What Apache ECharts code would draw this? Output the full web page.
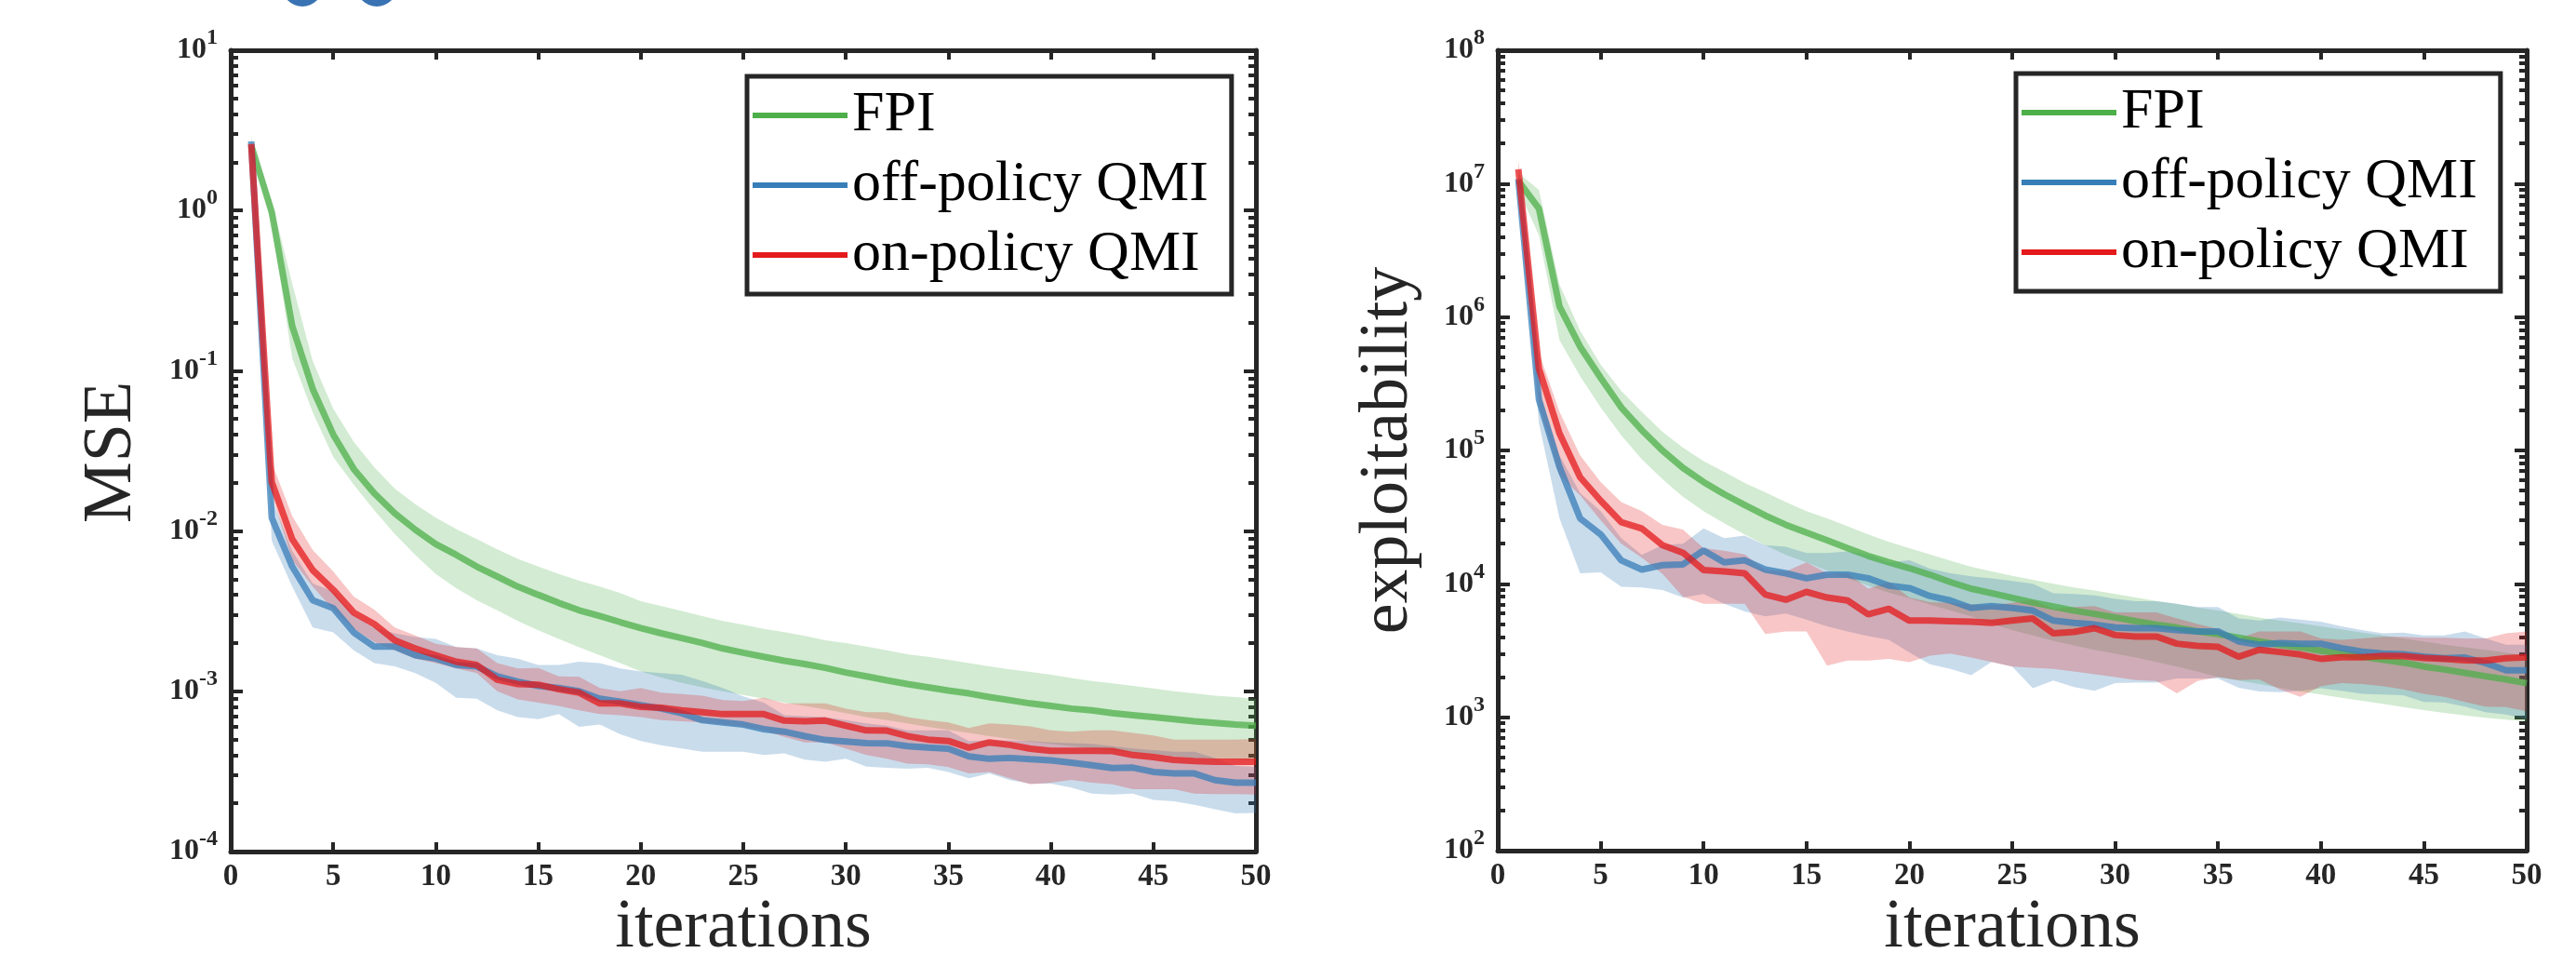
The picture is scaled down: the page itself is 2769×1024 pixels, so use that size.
<!DOCTYPE html>
<html>
<head>
<meta charset="utf-8">
<script src="https://cdn.jsdelivr.net/npm/echarts@6/dist/echarts.min.js"></script>
<style>
  html, body { margin: 0; padding: 0; background: #fff; }
  #chart { width: 2769px; height: 1024px; }
</style>
</head>
<body>
<div id="chart"></div>
<script>
// iterations on the x axis
const iters = [1,2,3,4,5,6,7,8,9,10,11,12,13,14,15,16,17,18,19,20,21,22,23,24,25,
  26,27,28,29,30,31,32,33,34,35,36,37,38,39,40,41,42,43,44,45,46,47,48,49,50];
const xTicks = [0, 5, 10, 15, 20, 25, 30, 35, 40, 45, 50];
const names = ['FPI', 'off-policy QMI', 'on-policy QMI'];

// ---- left panel: MSE ----
const mseFpi = [2.55,0.98,0.19,0.077,0.040,0.0244,0.0172,0.0129,0.0102,0.0083,0.0071,0.0060,0.0052,0.0045,0.0040,0.00356,0.0032,0.00295,0.0027,0.00248,
  0.0023,0.00215,0.0020,0.00185,0.00174,0.00164,0.00155,0.00148,0.0014,0.00131,0.00124,0.00117,0.00111,0.00106,0.00101,0.00097,0.00092,0.00088,0.00084,0.00081,
  0.00078,0.00076,0.00073,0.00071,0.00069,0.00067,0.00065,0.000635,0.00062,0.00061];
const mseFpiHi = [2.75,1.15,0.35,0.115,0.058,0.036,0.025,0.0184,0.0147,0.0121,0.0103,0.0089,0.0077,0.0067,0.0060,0.0054,0.0049,0.0045,0.0041,0.00365,
  0.0034,0.00317,0.00295,0.00275,0.0026,0.00245,0.00234,0.00222,0.00208,0.0020,0.0019,0.0018,0.0017,0.00164,0.00157,0.0015,0.00143,0.00137,0.00132,0.00127,
  0.00121,0.00116,0.00112,0.00108,0.00104,0.0010,0.00097,0.00094,0.00092,0.0009];
const mseFpiLo = [2.35,0.82,0.12,0.055,0.029,0.0195,0.0135,0.0096,0.0071,0.0054,0.0044,0.0037,0.0032,0.00275,0.0024,0.00212,0.00188,0.00168,0.0015,0.00133,
  0.00122,0.00113,0.00106,0.0010,0.00095,0.0009,0.00085,0.00081,0.00077,0.00073,0.00069,0.00066,0.00063,0.0006,0.000575,0.00055,0.000525,0.000505,0.000485,0.00047,
  0.000455,0.00044,0.000425,0.000415,0.000405,0.000395,0.000385,0.00038,0.000375,0.00037];

const mseOff = [2.7,0.0121,0.0060,0.0037,0.0033,0.00233,0.0019,0.0019,0.00168,0.0016,0.00146,0.00143,0.00124,0.00115,0.00108,0.00105,0.0010,0.0009,0.00086,0.00082,
  0.00078,0.00073,0.00066,0.00064,0.00062,0.00058,0.00056,0.000525,0.000497,0.000486,0.000475,0.000474,0.000455,0.000445,0.000438,0.000392,0.000379,0.000384,0.000377,0.000371,
  0.000359,0.000346,0.000332,0.000334,0.000314,0.000307,0.000307,0.000279,0.000269,0.000269];
const mseOffHi = [2.9,0.016,0.0075,0.0047,0.0042,0.0030,0.0025,0.0023,0.00218,0.00212,0.00189,0.00185,0.00168,0.0016,0.00146,0.00146,0.00153,0.0015,0.00139,0.00133,
  0.0013,0.00127,0.00116,0.00105,0.00093,0.00085,0.00071,0.0007,0.00069,0.00066,0.00063,0.00061,0.00057,0.00057,0.00057,0.00049,0.000495,0.000495,0.00049,0.00048,
  0.000475,0.00047,0.000455,0.00044,0.00043,0.00042,0.00042,0.000384,0.000343,0.000337];
const mseOffLo = [2.5,0.0087,0.0045,0.0025,0.00233,0.0018,0.0015,0.00143,0.0013,0.00113,0.00091,0.0009,0.00076,0.00069,0.00067,0.00072,0.0006,0.00062,0.00054,0.00049,
  0.00046,0.00044,0.00042,0.00042,0.00042,0.0004,0.00041,0.000375,0.000364,0.00038,0.000339,0.000333,0.000329,0.000333,0.000314,0.000287,0.000307,0.000279,0.000265,0.000265,
  0.000251,0.00023,0.000227,0.00023,0.00021,0.000206,0.000196,0.000184,0.000173,0.000174];

const mseOn = [2.6,0.0202,0.0089,0.0057,0.0043,0.0031,0.00263,0.00208,0.00185,0.00168,0.00153,0.00146,0.00118,0.00111,0.0011,0.00103,0.00098,0.00084,0.00084,0.0008,
  0.00079,0.00076,0.00074,0.00072,0.00072,0.00072,0.000656,0.00065,0.000656,0.00061,0.00057,0.000568,0.000525,0.0005,0.00049,0.000445,0.00048,0.000463,0.000438,0.000425,
  0.000425,0.000425,0.000424,0.0004,0.000389,0.000373,0.000367,0.000364,0.000364,0.000364];
const mseOnHi = [2.75,0.0268,0.0124,0.0076,0.0056,0.0039,0.00324,0.0025,0.00223,0.00198,0.00189,0.00185,0.0015,0.00139,0.0014,0.00124,0.00123,0.00105,0.001,0.00105,
  0.00098,0.00096,0.00094,0.00088,0.00087,0.00091,0.00084,0.00084,0.00084,0.00078,0.00074,0.00074,0.00069,0.00066,0.00064,0.00059,0.00063,0.00062,0.000605,0.00057,
  0.00056,0.00057,0.00057,0.00055,0.00053,0.0005,0.0005,0.0005,0.0005,0.000505];
const mseOnLo = [2.45,0.0168,0.0066,0.0045,0.00324,0.00245,0.00203,0.0018,0.0016,0.0015,0.00139,0.0013,0.001,0.00089,0.00085,0.00081,0.00076,0.00072,0.00071,0.00069,
  0.00066,0.00065,0.00064,0.00062,0.0006,0.00057,0.00052,0.00048,0.00048,0.00044,0.0004,0.00038,0.000354,0.00035,0.000336,0.000307,0.000314,0.000287,0.000263,0.000269,
  0.00028,0.000269,0.000263,0.000245,0.000245,0.000245,0.00023,0.000228,0.000228,0.000227];

// ---- right panel: exploitability ----
const expFpi = [1.05e7,6.5e6,1.2e6,6.0e5,3.5e5,2.1e5,1.42e5,1.0e5,7.4e4,5.8e4,4.7e4,3.9e4,3.25e4,2.77e4,2.42e4,2.12e4,1.85e4,1.62e4,1.45e4,1.31e4,
  1.17e4,1.03e4,9.2e3,8.5e3,7.85e3,7.25e3,6.75e3,6.3e3,5.95e3,5.6e3,5.25e3,4.95e3,4.7e3,4.4e3,4.2e3,3.95e3,3.7e3,3.5e3,3.35e3,3.15e3,
  3.0e3,2.85e3,2.7e3,2.57e3,2.4e3,2.28e3,2.15e3,2.03e3,1.92e3,1.8e3];
const expFpiHi = [1.2e7,9.0e6,1.75e6,7.9e5,4.4e5,2.8e5,1.95e5,1.38e5,1.05e5,8.3e4,6.9e4,5.7e4,4.85e4,4.1e4,3.5e4,3.1e4,2.7e4,2.35e4,2.06e4,1.85e4,
  1.66e4,1.49e4,1.34e4,1.24e4,1.15e4,1.07e4,1.0e4,9.4e3,8.9e3,8.4e3,7.9e3,7.45e3,7.05e3,6.65e3,6.3e3,5.95e3,5.6e3,5.3e3,5.05e3,4.8e3,
  4.55e3,4.3e3,4.1e3,3.9e3,3.7e3,3.5e3,3.35e3,3.2e3,3.05e3,2.9e3];
const expFpiLo = [9.0e6,4.1e6,6.7e5,3.6e5,2.1e5,1.3e5,8.6e4,6.1e4,4.5e4,3.5e4,2.85e4,2.35e4,1.95e4,1.65e4,1.45e4,1.26e4,1.1e4,9.7e3,8.6e3,7.8e3,
  7.0e3,6.3e3,5.7e3,5.0e3,4.5e3,4.1e3,3.75e3,3.45e3,3.2e3,3.0e3,2.8e3,2.6e3,2.4e3,2.2e3,2.0e3,1.88e3,1.77e3,1.66e3,1.56e3,1.48e3,
  1.4e3,1.33e3,1.26e3,1.19e3,1.13e3,1.08e3,1.03e3,990,960,930];

const expOff = [1.08e7,2.4e5,7.5e4,3.1e4,2.35e4,1.5e4,1.28e4,1.38e4,1.4e4,1.78e4,1.45e4,1.5e4,1.28e4,1.2e4,1.1e4,1.17e4,1.17e4,1.1e4,9.7e3,9.3e3,
  8.1e3,7.5e3,6.6e3,6.8e3,6.6e3,6.3e3,5.3e3,5.1e3,4.95e3,4.7e3,4.65e3,4.65e3,4.5e3,4.4e3,4.4e3,3.7e3,3.5e3,3.6e3,3.55e3,3.55e3,
  3.3e3,3.1e3,3.0e3,2.97e3,2.85e3,2.77e3,2.8e3,2.55e3,2.25e3,2.25e3];
const expOffHi = [1.15e7,2.85e5,9.2e4,4.8e4,3.5e4,2.2e4,1.65e4,1.95e4,2.0e4,2.6e4,2.2e4,2.3e4,1.95e4,1.9e4,1.7e4,1.7e4,1.75e4,1.67e4,1.45e4,1.5e4,
  1.3e4,1.2e4,1.14e4,1.1e4,1.05e4,1.0e4,8.5e3,8.4e3,8.2e3,7.7e3,7.4e3,7.4e3,7.1e3,6.7e3,6.7e3,5.5e3,5.3e3,5.6e3,5.4e3,5.2e3,
  4.8e3,4.5e3,4.25e3,4.3e3,4.1e3,4.1e3,4.4e3,3.9e3,3.5e3,3.5e3];
const expOffLo = [1.0e7,1.6e5,3.1e4,1.2e4,1.22e4,9.5e3,9.4e3,9.0e3,7.9e3,8.4e3,7.1e3,6.2e3,5.7e3,6.0e3,5.4e3,4.8e3,4.4e3,4.05e3,3.8e3,3.06e3,
  2.5e3,2.3e3,2.07e3,2.6e3,2.4e3,1.65e3,1.88e3,1.68e3,1.58e3,1.8e3,1.82e3,1.82e3,1.95e3,1.95e3,1.95e3,1.66e3,1.56e3,1.54e3,1.58e3,1.65e3,
  1.58e3,1.5e3,1.48e3,1.46e3,1.3e3,1.29e3,1.2e3,1.09e3,1.05e3,970];

const expOn = [1.28e7,4.1e5,1.34e5,6.3e4,4.2e4,2.9e4,2.6e4,1.95e4,1.71e4,1.27e4,1.24e4,1.2e4,8.3e3,7.6e3,8.7e3,7.9e3,7.5e3,5.9e3,6.5e3,5.3e3,
  5.3e3,5.25e3,5.2e3,5.1e3,5.3e3,5.5e3,4.25e3,4.36e3,4.65e3,4.13e3,4.03e3,4.03e3,3.56e3,3.43e3,3.37e3,2.84e3,3.2e3,3.08e3,2.95e3,2.74e3,
  2.81e3,2.81e3,2.88e3,2.87e3,2.78e3,2.74e3,2.67e3,2.66e3,2.77e3,2.81e3];
const expOnHi = [1.5e7,5.4e5,1.95e5,9.2e4,5.8e4,4.1e4,3.5e4,2.77e4,2.55e4,1.85e4,1.77e4,1.66e4,1.27e4,1.24e4,1.45e4,1.2e4,1.2e4,9.2e3,1.03e4,7.9e3,
  7.3e3,7.2e3,7.0e3,6.9e3,7.2e3,7.6e3,6.5e3,6.7e3,6.8e3,6.1e3,6.1e3,6.1e3,5.5e3,5.0e3,4.6e3,3.9e3,4.4e3,4.4e3,4.4e3,3.9e3,
  3.8e3,3.9e3,4.0e3,4.0e3,3.95e3,3.95e3,3.9e3,3.9e3,4.25e3,4.4e3];
const expOnLo = [1.1e7,2.2e5,6.5e4,4.6e4,3.0e4,2.0e4,1.57e4,1.19e4,8.0e3,7.1e3,7.1e3,7.1e3,4.2e3,4.4e3,4.4e3,2.44e3,2.66e3,2.66e3,2.74e3,2.59e3,
  2.9e3,3.0e3,2.8e3,2.6e3,2.4e3,2.35e3,2.3e3,2.2e3,2.1e3,2.0e3,1.9e3,1.87e3,1.51e3,1.87e3,2.0e3,1.9e3,1.92e3,1.62e3,1.42e3,1.71e3,
  1.8e3,1.77e3,1.71e3,1.62e3,1.5e3,1.42e3,1.3e3,1.2e3,1.19e3,1.11e3];

const mseRange = [1e-4, 1e1];
const expRange = [1e2, 1e8];

const INK = '#262626';
const GREEN = '#4DAF4A', BLUE = '#377EB8', RED = '#E41A1C';
const FILL = {
  [GREEN]: 'rgba(77,175,74,0.25)',
  [BLUE]: 'rgba(55,126,184,0.27)',
  [RED]: 'rgba(228,26,28,0.25)'
};

const grids = [
  { left: 248, top: 54, width: 1102, height: 861 },
  { left: 1610, top: 54, width: 1106, height: 860 }
];

function minorTicks(range) {
  const out = [];
  const a = Math.round(Math.log10(range[0])), b = Math.round(Math.log10(range[1]));
  for (let n = a; n < b; n++) for (let k = 2; k <= 9; k++) out.push(n + Math.log10(k));
  return out;
}

const supLabel = {
  margin: 14,
  formatter: v => '{b|10}{s|' + Math.round(Math.log10(v)) + '}',
  rich: {
    b: { fontFamily: 'Liberation Serif', fontWeight: 'bold', fontSize: 32, color: INK },
    s: { fontFamily: 'Liberation Serif', fontWeight: 'bold', fontSize: 24, color: INK, padding: [0, 0, 26, 0] }
  }
};

function xAxes(gi) {
  const base = {
    type: 'value', gridIndex: gi, min: 0, max: 50, interval: 5,
    axisLine: { onZero: false, lineStyle: { color: INK, width: 5 } },
    axisTick: { inside: true, length: 10, lineStyle: { color: INK, width: 4 } },
    splitLine: { show: false }
  };
  return [
    Object.assign({}, base, {
      position: 'bottom',
      axisLabel: { margin: 11, fontFamily: 'Liberation Serif', fontWeight: 'bold', fontSize: 33, color: INK,
        customValues: xTicks }
    }),
    Object.assign({}, base, { position: 'top', axisLabel: { show: false } })
  ];
}

function yAxes(gi, range, decades) {
  const major = {
    type: 'log', logBase: 10, gridIndex: gi, min: range[0], max: range[1], splitNumber: decades,
    axisLine: { onZero: false, lineStyle: { color: INK, width: 5 } },
    axisTick: { inside: true, length: 13, lineStyle: { color: INK, width: 4 } },
    splitLine: { show: false }
  };
  const minor = {
    type: 'value', gridIndex: gi,
    min: Math.log10(range[0]), max: Math.log10(range[1]),
    axisLine: { show: false, onZero: false },
    axisTick: { inside: true, length: 8, lineStyle: { color: INK, width: 4 }, customValues: minorTicks(range) },
    axisLabel: { show: false },
    splitLine: { show: false }
  };
  return [
    Object.assign({}, major, { position: 'left', axisLabel: supLabel }),
    Object.assign({}, minor, { position: 'left' }),
    Object.assign({}, major, { position: 'right', axisLabel: { show: false } }),
    Object.assign({}, minor, { position: 'right' })
  ];
}

function band(xi, yi, lo, hi, color) {
  return {
    type: 'custom', xAxisIndex: xi, yAxisIndex: yi, silent: true, clip: true,
    data: [[iters[0], lo[0]]],
    renderItem: function (params, api) {
      if (params.dataIndex !== 0) return null;
      const pts = [];
      for (let k = 0; k < iters.length; k++) pts.push(api.coord([iters[k], hi[k]]));
      for (let k = iters.length - 1; k >= 0; k--) pts.push(api.coord([iters[k], lo[k]]));
      return { type: 'polygon', shape: { points: pts }, style: { fill: FILL[color], stroke: null } };
    }
  };
}

function line(xi, yi, name, vals, color) {
  return {
    type: 'line', name: name, xAxisIndex: xi, yAxisIndex: yi,
    data: iters.map((x, k) => [x, vals[k]]),
    showSymbol: false, symbol: 'none', clip: true,
    color: color,
    itemStyle: { color: color },
    lineStyle: { color: color, width: 7, opacity: 0.75 },
    emphasis: { disabled: true }
  };
}

function panel(gi, fpi, off, on) {
  const xi = gi * 2, yi = gi * 4;
  return [
    band(xi, yi, fpi[2], fpi[1], GREEN), line(xi, yi, names[0], fpi[0], GREEN),
    band(xi, yi, off[2], off[1], BLUE), line(xi, yi, names[1], off[0], BLUE),
    band(xi, yi, on[2], on[1], RED), line(xi, yi, names[2], on[0], RED)
  ];
}

function legendAt(left, top) {
  return {
    left: left, top: top, orient: 'vertical', icon: 'rect',
    itemWidth: 102, itemHeight: 6, itemGap: 13,
    backgroundColor: '#fff', borderColor: INK, borderWidth: 5, borderRadius: 0,
    padding: [11, 25, 11, 6], selectedMode: false,
    textStyle: { fontFamily: 'Liberation Serif', fontSize: 62, color: '#000', lineHeight: 62 },
    data: [
      { name: names[0], itemStyle: { color: GREEN, opacity: 1 } },
      { name: names[1], itemStyle: { color: BLUE, opacity: 1 } },
      { name: names[2], itemStyle: { color: RED, opacity: 1 } }
    ]
  };
}

function axisName(text, x, y, rot) {
  return {
    type: 'text', x: x, y: y, rotation: rot, silent: true,
    style: {
      text: text, font: '74px "Liberation Serif"', fill: INK,
      align: 'center', verticalAlign: 'middle', textAlign: 'center', textVerticalAlign: 'middle'
    }
  };
}

const chart = echarts.init(document.getElementById('chart'), null, { renderer: 'canvas' });
chart.setOption({
  animation: false,
  backgroundColor: '#fff',
  grid: grids.map(g => Object.assign({ outerBoundsMode: 'none', containLabel: false }, g)),
  xAxis: xAxes(0).concat(xAxes(1)),
  yAxis: yAxes(0, mseRange, 5).concat(yAxes(1, expRange, 6)),
  legend: [legendAt(803, 82), legendAt(2167, 79)],
  series: panel(0, [mseFpi, mseFpiHi, mseFpiLo], [mseOff, mseOffHi, mseOffLo], [mseOn, mseOnHi, mseOnLo])
    .concat(panel(1, [expFpi, expFpiHi, expFpiLo], [expOff, expOffHi, expOffLo], [expOn, expOnHi, expOnLo])),
  graphic: [
    // bits of blue lettering cut off at the top edge
    { type: 'circle', shape: { cx: 325, cy: -15, r: 22 }, style: { fill: '#3A73B3' }, silent: true },
    { type: 'circle', shape: { cx: 405, cy: -15, r: 22 }, style: { fill: '#3A73B3' }, silent: true },
    axisName('iterations', 799, 998, 0),
    axisName('iterations', 2163, 998, 0),
    axisName('MSE', 121, 486, Math.PI / 2),
    axisName('exploitability', 1493, 484, Math.PI / 2)
  ]
});
</script>
</body>
</html>
